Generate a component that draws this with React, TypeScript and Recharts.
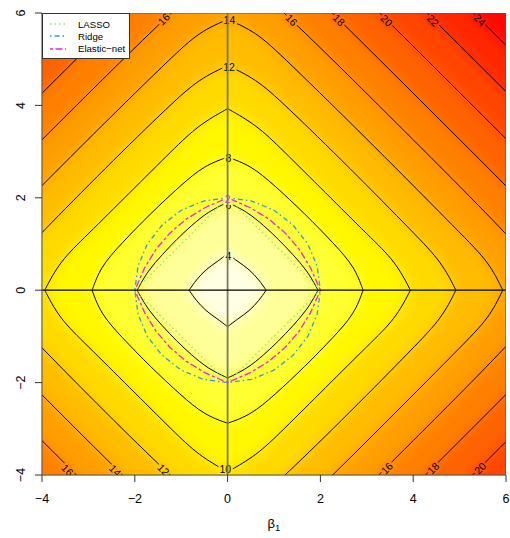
import { ScatterChart, Scatter, XAxis, YAxis, Legend, Curve } from 'recharts'

const xTicks = [-4, -2, 0, 2, 4, 6]
const yTicks = [-4, -2, 0, 2, 4, 6]

// contour levels, each traced in the upper-right quadrant (the surface is symmetric, other quadrants are mirrored)
const levels = [4, 6, 8, 10, 12, 14, 16, 18, 20, 22, 24]
const c4 = [[0.83, 0], [0.68, 0.22], [0.47, 0.45], [0.22, 0.62], [0, 0.79]]
const c6 = [[1.95, 0], [1.72, 0.42], [1.4, 0.78], [1.1, 1.1], [0.78, 1.4], [0.42, 1.7], [0, 1.9]]
const c8 = [[2.92, 0], [2.74, 0.5], [2.3, 1.0], [1.66, 1.66], [1.0, 2.28], [0.5, 2.7], [0, 2.88]]
const c10 = [[3.94, 0], [3.62, 0.62], [3.05, 1.17], [2.11, 2.11], [1.17, 3.05], [0.62, 3.58], [0, 3.93]]
const c12 = [[4.92, 0], [4.62, 0.6], [4.05, 1.2], [2.64, 2.64], [1.2, 4.05], [0.6, 4.58], [0, 4.86]]
const c14 = [[5.93, 0], [5.64, 0.6], [5.05, 1.2], [3.14, 3.14], [1.2, 5.05], [0.6, 5.6], [0, 5.86]]
const c16 = [[6.93, 0], [6.65, 0.6], [3.63, 3.63], [0.6, 6.65], [0, 6.93]]
const c18 = [[7.95, 0], [7.67, 0.6], [4.13, 4.13], [0.6, 7.67], [0, 7.95]]
const c20 = [[8.96, 0], [8.68, 0.6], [4.64, 4.64], [0.6, 8.68], [0, 8.96]]
const c22 = [[9.98, 0], [9.7, 0.6], [5.15, 5.15], [0.6, 9.7], [0, 9.98]]
const c24 = [[10.98, 0], [10.7, 0.6], [5.65, 5.65], [0.6, 10.7], [0, 10.98]]
const contours = [c4, c6, c8, c10, c12, c14, c16, c18, c20, c22, c24]

// constraint regions, upper-right quadrant
const lassoQ1 = [[2, 0], [0, 2]]
const ridgeQ1 = [[2, 0], [1.93, 0.52], [1.73, 1], [1.41, 1.41], [1, 1.73], [0.52, 1.93], [0, 2]]
const enetQ1 = [[2, 0], [1.79, 0.48], [1.54, 0.89], [1.24, 1.24], [0.89, 1.54], [0.48, 1.79], [0, 2]]

// contour labels
const labelText = ['16', '14', '16', '18', '20', '22', '24', '12', '8', '6', '4', '16', '14', '12', '10', '16', '18', '20']
const labelX = [-1.38, 0.04, 1.38, 2.4, 3.43, 4.43, 5.44, 0.03, 0.02, 0.02, 0.02, -3.45, -2.42, -1.38, -0.05, 3.43, 4.43, 5.44]
const labelY = [5.87, 5.85, 5.85, 5.85, 5.84, 5.84, 5.85, 4.84, 2.86, 1.84, 0.74, -3.89, -3.9, -3.88, -3.87, -3.85, -3.85, -3.85]

const legendNames = ['LASSO', 'Ridge', 'Elastic\u2212net']

// styles
const FONT = '"Liberation Sans", Arial, Helvetica, sans-serif'
const fillColors = ['#FFFFE6', '#FFFF99', '#FFFF33', '#FFF800', '#FFDA00', '#FFBC00', '#FF9E00', '#FF8000', '#FF6200', '#FF4400', '#FF2600']
const outerColor = '#FF0800'
const haloColors: Record<string, string> = {
  '2': '#FFFF70', '4': '#FFFFC8', '6': '#FFFF66', '8': '#FFFF1A', '10': '#FFE800', '12': '#FFCB00',
  '14': '#FFAD00', '16': '#FF8F00', '18': '#FF7100', '20': '#FF5300', '22': '#FF3500', '24': '#FF1700',
}
const legendColors = ['#86E886', '#2E9AF0', '#F020E8']
const legendDash = ['1.5 3', '1.5 3 5 3', '3 2.5 7 2.5']

// mirror a quadrant trace into a closed ring; tips on the axes are repeated so the spline keeps them pointed
const ring = (q1: number[][], tipRepeat = 1) => {
  const rev = [...q1].reverse()
  const quads = [
    q1.map(([x, y]) => ({ x, y })),
    rev.map(([x, y]) => ({ x: -x, y })),
    q1.map(([x, y]) => ({ x: -x, y: -y })),
    rev.map(([x, y]) => ({ x, y: -y })),
  ]
  const out: { x: number; y: number }[] = []
  quads.forEach((q) => {
    for (let k = 0; k < tipRepeat; k++) out.push(q[0])
    out.push(...q.slice(1, -1))
  })
  return out
}

const Nothing = () => <g />

const fmt = (v: number) => (v < 0 ? '\u2212' + Math.abs(v) : String(v))

const XTick = ({ x, y, payload }: any) => (
  <text x={x} y={y + 19} textAnchor="middle" fontSize={12.5} fill="#000" fontFamily={FONT}>
    {fmt(payload.value)}
  </text>
)

const YTick = ({ x, y, payload }: any) => (
  <text x={x - 8} y={y} textAnchor="middle" fontSize={12.5} fill="#000" fontFamily={FONT}
    transform={`rotate(-90 ${x - 8} ${y})`}>
    {fmt(payload.value)}
  </text>
)

const XLabel = (props: any) => {
  const vb = props.viewBox || { x: 42, y: 475, width: 464, height: 63 }
  return (
    <text x={vb.x + vb.width / 2} y={vb.y + 53} textAnchor="middle" fontSize={13} fill="#000" fontFamily={FONT}>
      β<tspan fontSize={9.5} dy={3}>1</tspan>
    </text>
  )
}

const ContourLabel = (p: any) => {
  const d = p.payload
  const angle = Math.abs(d.x) < 0.2 ? 0 : Math.sign(d.x) * Math.sign(d.y) > 0 ? 45 : -45
  return (
    <text x={p.cx} y={p.cy} textAnchor="middle" dominantBaseline="central" fontSize={10.5}
      fontFamily={FONT} fill={d.color} stroke={haloColors[d.t]} strokeWidth={4}
      paintOrder="stroke" transform={`rotate(${angle} ${p.cx} ${p.cy})`}>
      {d.t}
    </text>
  )
}

const LegendBox = () => (
  <div style={{ width: 88, height: 46, boxSizing: 'border-box', border: '1px solid #333', background: '#fff',
    fontFamily: FONT, fontSize: 9.6, paddingTop: 4 }}>
    {legendNames.map((n, i) => (
      <div key={n} style={{ display: 'flex', alignItems: 'center', height: 12.3 }}>
        <svg width={35} height={12}>
          <line x1={7} x2={23} y1={6} y2={6} stroke={legendColors[i]} strokeWidth={1.6} strokeDasharray={legendDash[i]} />
        </svg>
        <span style={{ color: '#000' }}>{n}</span>
      </div>
    ))}
  </div>
)

export default function App() {
  const far = [{ x: -20, y: -20 }, { x: 20, y: -20 }, { x: 20, y: 20 }, { x: -20, y: 20 }]
  const box = [
    { x: xTicks[0], y: yTicks[0] }, { x: xTicks[xTicks.length - 1], y: yTicks[0] },
    { x: xTicks[xTicks.length - 1], y: yTicks[yTicks.length - 1] }, { x: xTicks[0], y: yTicks[yTicks.length - 1] },
  ]
  const labels = labelText.map((t, i) => ({ x: labelX[i], y: labelY[i], t, color: '#000' }))
  labels.push({ x: 0.0, y: 1.98, t: '2', color: '#F020E8' })

  const constraint = (q1: number[][], i: number) => (
    <Scatter key={legendNames[i]} name={legendNames[i]} data={ring(q1)} shape={Nothing} isAnimationActive={false} legendType="none"
      line={(p: any) => <Curve points={p.points} type="linearClosed" fill="none" stroke={legendColors[i]}
        strokeWidth={1.3} strokeDasharray={legendDash[i]} />} />
  )

  return (
    <div style={{ position: 'absolute', left: 0, top: 0, width: 510, height: 538, background: '#fff' }}>
      <ScatterChart width={510} height={538} margin={{ top: 13, right: 4, bottom: 0, left: 0 }} style={{ fontFamily: FONT }}>
        <XAxis type="number" dataKey="x" domain={[-4, 6]} ticks={xTicks} interval={0} allowDataOverflow
          height={63} tickSize={7} stroke="#333" tick={<XTick />} label={XLabel} />
        <YAxis type="number" dataKey="y" domain={[-4, 6]} ticks={yTicks} interval={0} allowDataOverflow
          width={42} tickSize={7} stroke="#333" tick={<YTick />} />

        <Scatter data={far} shape={Nothing} isAnimationActive={false} legendType="none"
          line={(p: any) => (
            <g>
              <defs>
                <filter id="soften" x="-15%" y="-15%" width="130%" height="130%">
                  <feGaussianBlur stdDeviation={7} />
                </filter>
              </defs>
              <Curve points={p.points} type="linearClosed" fill={outerColor} stroke="none" />
            </g>
          )} />

        {[...contours].reverse().map((c, k) => {
          const i = contours.length - 1 - k
          return (
            <Scatter key={'f' + levels[i]} data={ring(c, 3)} shape={Nothing} isAnimationActive={false} legendType="none"
              line={(p: any) => (
                <g filter="url(#soften)">
                  <Curve points={p.points} type="basisClosed" fill={fillColors[i]} stroke="none" />
                </g>
              )} />
          )
        })}

        {contours.map((c, i) => (
          <Scatter key={'c' + levels[i]} data={ring(c, 3)} shape={Nothing} isAnimationActive={false} legendType="none"
            line={(p: any) => <Curve points={p.points} type="basisClosed" fill="none" stroke="#000" strokeWidth={1} />} />
        ))}

        {constraint(ridgeQ1, 1)}
        {constraint(enetQ1, 2)}
        {constraint(lassoQ1, 0)}

        <Scatter data={labels} shape={ContourLabel} isAnimationActive={false} legendType="none" />

        <Scatter data={[{ x: 0, y: -10 }, { x: 0, y: 10 }]} shape={Nothing} isAnimationActive={false} legendType="none"
          line={{ stroke: '#7a7a60', strokeWidth: 1.8 }} />
        <Scatter data={[{ x: -10, y: 0 }, { x: 10, y: 0 }]} shape={Nothing} isAnimationActive={false} legendType="none"
          line={{ stroke: '#000', strokeWidth: 1.3 }} />

        <Scatter data={box} shape={Nothing} isAnimationActive={false} legendType="none"
          line={(p: any) => <Curve points={p.points} type="linearClosed" fill="none" stroke="#555" strokeWidth={1} />} />

        <Legend layout="vertical" align="center" verticalAlign="middle" content={<LegendBox />}
          wrapperStyle={{ left: 42, top: 13, width: 88, height: 46 }} />
      </ScatterChart>
    </div>
  )
}
